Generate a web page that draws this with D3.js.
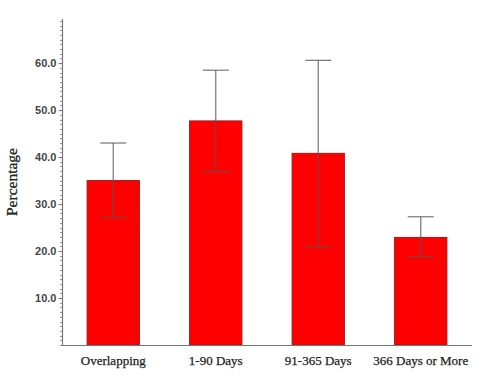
<!DOCTYPE html>
<html>
<head>
<meta charset="utf-8">
<script src="https://cdn.jsdelivr.net/npm/d3@7"></script>
<style>
body { margin: 0; background: #fff; }
</style>
</head>
<body>
<svg></svg>
<script>
var categories = ["Overlapping", "1-90 Days", "91-365 Days", "366 Days or More"];
var values = [35.0, 47.7, 40.8, 22.9];
var lower = [27.1, 36.9, 20.9, 18.8];
var upper = [43.0, 58.5, 60.6, 27.3];
var tickValues = [10, 20, 30, 40, 50, 60];

var svgWidth = 480, svgHeight = 379;
var margin = {left: 62, right: 8, top: 19, bottom: 34};

var svg = d3.select("svg")
  .attr("width", svgWidth)
  .attr("height", svgHeight);

var x = d3.scaleBand()
  .domain(categories)
  .range([margin.left, svgWidth - margin.right])
  .paddingInner(0.49)
  .paddingOuter(0.245);

var y = d3.scaleLinear()
  .domain([0, 69.4])
  .range([svgHeight - margin.bottom, margin.top]);

// minor ticks on the y axis
var minor = d3.range(0, 69.4, 1);
svg.selectAll(".minor")
  .data(minor)
  .enter()
  .append("line")
  .attr("x1", margin.left - 2)
  .attr("x2", margin.left)
  .attr("y1", function(d) { return Math.round(y(d)) + 0.5; })
  .attr("y2", function(d) { return Math.round(y(d)) + 0.5; })
  .attr("stroke", "#999")
  .attr("stroke-width", 1);

var yAxis = svg.append("g")
  .attr("transform", "translate(" + (margin.left + 0.5) + ",0)")
  .call(d3.axisLeft(y).tickValues(tickValues).tickSize(4).tickFormat(d3.format(".1f")));
yAxis.select(".domain")
  .attr("d", "M0," + margin.top + "V" + y(0))
  .attr("stroke", "#777")
  .attr("stroke-width", 1.2);
yAxis.selectAll(".tick line").attr("stroke", "#777");
yAxis.selectAll(".tick text")
  .attr("font-family", "'Liberation Sans', sans-serif")
  .attr("font-weight", "bold")
  .attr("font-size", "11px")
  .attr("fill", "#444")
  .attr("x", -6);

svg.selectAll(".bar")
  .data(values)
  .enter()
  .append("rect")
  .attr("x", function(d, i) { return x(categories[i]); })
  .attr("y", function(d) { return y(d); })
  .attr("width", x.bandwidth())
  .attr("height", function(d) { return y(0) - y(d); })
  .style("fill", "#ff0000")
  .style("stroke", "#a01818")
  .style("stroke-width", 1);

var xAxis = svg.append("g")
  .attr("transform", "translate(0," + (y(0) + 0.5) + ")")
  .call(d3.axisBottom(x).tickSize(0));
xAxis.select(".domain")
  .attr("d", "M" + margin.left + ",0H" + (svgWidth - margin.right))
  .attr("stroke", "#777")
  .attr("stroke-width", 1.2);
xAxis.selectAll(".tick text")
  .attr("font-family", "'Liberation Serif', serif")
  .attr("font-size", "13px")
  .attr("fill", "#222")
  .attr("stroke", "#222")
  .attr("stroke-width", 0.25)
  .attr("dy", "1.25em");

// error bars
var err = svg.selectAll(".err")
  .data(values)
  .enter()
  .append("g")
  .attr("stroke", "#555")
  .attr("stroke-opacity", 0.75)
  .attr("stroke-width", 1.3);
var capHalf = 13;
err.append("line")
  .attr("x1", function(d, i) { return x(categories[i]) + x.bandwidth() / 2; })
  .attr("x2", function(d, i) { return x(categories[i]) + x.bandwidth() / 2; })
  .attr("y1", function(d, i) { return y(lower[i]); })
  .attr("y2", function(d, i) { return y(upper[i]); });
err.append("line")
  .attr("x1", function(d, i) { return x(categories[i]) + x.bandwidth() / 2 - capHalf; })
  .attr("x2", function(d, i) { return x(categories[i]) + x.bandwidth() / 2 + capHalf; })
  .attr("y1", function(d, i) { return y(upper[i]); })
  .attr("y2", function(d, i) { return y(upper[i]); });
err.append("line")
  .attr("x1", function(d, i) { return x(categories[i]) + x.bandwidth() / 2 - capHalf; })
  .attr("x2", function(d, i) { return x(categories[i]) + x.bandwidth() / 2 + capHalf; })
  .attr("y1", function(d, i) { return y(lower[i]); })
  .attr("y2", function(d, i) { return y(lower[i]); });

svg.append("text")
  .attr("transform", "translate(17," + y(34.7) + ") rotate(-90)")
  .attr("text-anchor", "middle")
  .attr("font-family", "'Liberation Serif', serif")
  .attr("font-size", "15.5px")
  .attr("fill", "#222")
  .attr("stroke", "#222")
  .attr("stroke-width", 0.3)
  .text("Percentage");
</script>
</body>
</html>
